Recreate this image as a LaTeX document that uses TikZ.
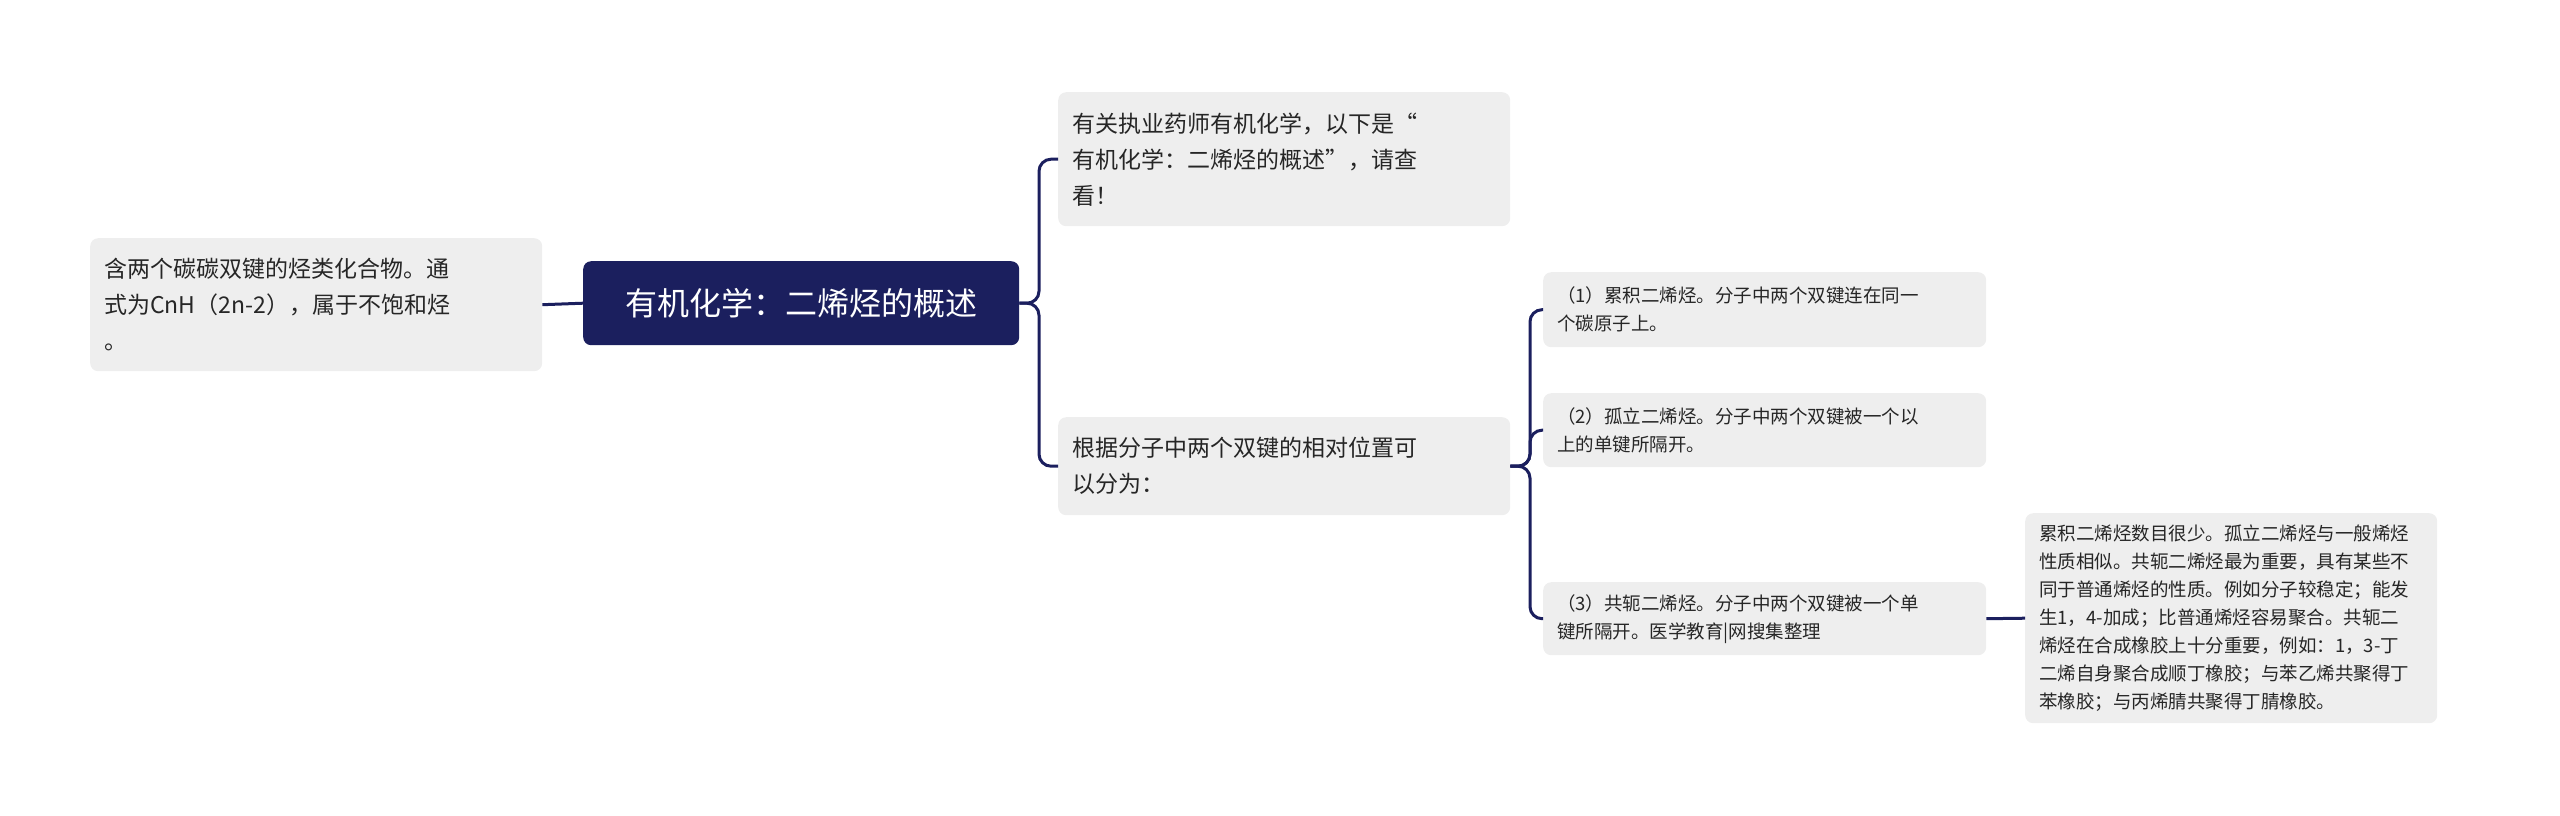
\documentclass[tikz,border=0pt]{standalone}
\usepackage{fontspec}
\setmainfont{Noto Sans CJK SC}
\begin{document}
\begin{tikzpicture}[x=1pt,y=-1pt,
  box/.style={fill=boxgray,rounded corners=8pt,inner xsep=14pt,inner ysep=0pt,align=left,anchor=north west,text=black!85},
  big/.style={box,font=\fontsize{23}{36}\selectfont},
  small/.style={box,font=\fontsize{18.5}{28}\selectfont},
  link/.style={draw=navy,line width=3pt,rounded corners=12pt}]
\definecolor{boxgray}{HTML}{EEEEEE}
\definecolor{navy}{HTML}{1B1F5E}
\useasboundingbox (0,0) rectangle (2560,815);
\node[big,text width=424pt,minimum height=133pt] (L) at (90,238) {含两个碳碳双键的烃类化合物。通\\式为CnH（2n-2），属于不饱和烃\\。};
\node[box,fill=navy,text=white,font=\fontsize{32}{40}\selectfont,align=center,minimum width=436pt,minimum height=84pt,inner xsep=10pt] (R) at (583,261) {有机化学：二烯烃的概述};
\node[big,text width=424pt,minimum height=134pt] (T) at (1058,92) {有关执业药师有机化学，以下是“\\有机化学：二烯烃的概述”，请查\\看！};
\node[big,text width=424pt,minimum height=98pt] (M) at (1058,417) {根据分子中两个双键的相对位置可\\以分为：};
\node[small,text width=415pt,minimum height=75pt] (S1) at (1543,272) {（1）累积二烯烃。分子中两个双键连在同一\\个碳原子上。};
\node[small,text width=415pt,minimum height=74pt] (S2) at (1543,393) {（2）孤立二烯烃。分子中两个双键被一个以\\上的单键所隔开。};
\node[small,text width=415pt,minimum height=73pt] (S3) at (1543,582) {（3）共轭二烯烃。分子中两个双键被一个单\\键所隔开。医学教育|网搜集整理};
\node[small,text width=384pt,minimum height=210pt] (D) at (2025,513) {累积二烯烃数目很少。孤立二烯烃与一般烯烃\\性质相似。共轭二烯烃最为重要，具有某些不\\同于普通烯烃的性质。例如分子较稳定；能发\\生1，4-加成；比普通烯烃容易聚合。共轭二\\烯烃在合成橡胶上十分重要，例如：1，3-丁\\二烯自身聚合成顺丁橡胶；与苯乙烯共聚得丁\\苯橡胶；与丙烯腈共聚得丁腈橡胶。};
\coordinate (J1) at (1039,0);
\coordinate (J2) at (1530,0);
\draw[link] (R.west) -- (L.east);
\draw[link] (R.east) -- (J1 |- R.east) |- (T.west);
\draw[link] (R.east) -- (J1 |- R.east) |- (M.west);
\draw[link] (M.east) -- (J2 |- M.east) |- (S1.west);
\draw[link] (M.east) -- (J2 |- M.east) |- (S2.west);
\draw[link] (M.east) -- (J2 |- M.east) |- (S3.west);
\draw[link] (S3.east) -- (D.west);
\end{tikzpicture}
\end{document}
